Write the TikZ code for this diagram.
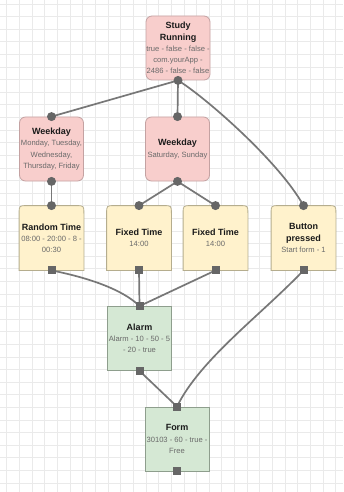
\documentclass[tikz,border=0pt]{standalone}
\usepackage{fontspec}
\setmainfont{Liberation Sans}
\usetikzlibrary{backgrounds,calc}
\definecolor{pinkf}{HTML}{F8CECC}
\definecolor{pinkd}{HTML}{C4A2A2}
\definecolor{yelf}{HTML}{FFF2CC}
\definecolor{yeld}{HTML}{B5AD8E}
\definecolor{grnf}{HTML}{D5E8D4}
\definecolor{grnd}{HTML}{8E9E8D}
\definecolor{edgec}{HTML}{777777}
\definecolor{portc}{HTML}{666666}
\definecolor{gridc}{HTML}{EAEAEA}
\definecolor{titlec}{HTML}{1A1A1A}
\definecolor{subc}{HTML}{6A6A6A}
\newcommand{\ttlf}{\fontsize{9}{11}\selectfont\bfseries\color{titlec}}
\newcommand{\sbtf}{\fontsize{7.6}{11}\selectfont\color{subc}}
\newcommand{\yshape}[1]{%
  \path[fill=yelf, draw=yeld, line width=0.8pt]
    (#1.south west) -- ($(#1.north west)+(0,8)$)
    .. controls (#1.north west) .. ($(#1.north west)+(8,0)$)
    -- ($(#1.north east)+(-8,0)$)
    .. controls (#1.north east) .. ($(#1.north east)+(0,8)$)
    -- (#1.south east) -- cycle;}
\tikzset{
  box/.style={minimum width=64pt, minimum height=64pt, inner sep=0pt,
    align=center, font=\fontsize{7.5}{11.2}\selectfont, line width=0.8pt},
  pinkbox/.style={box, fill=pinkf, draw=pinkd, rounded corners=6pt},
  greenbox/.style={box, fill=grnf, draw=grnd},
  yelbox/.style={box},
  edge/.style={draw=edgec, line width=1.7pt},
  cport/.style={circle, fill=portc, inner sep=0pt, minimum size=9pt},
  sport/.style={rectangle, fill=portc, inner sep=0pt, minimum size=8pt},
}
\begin{document}
\begin{tikzpicture}[x=1pt,y=-1pt]
\useasboundingbox (0,0) rectangle (343,492);

\node[pinkbox] (study) at (178,48) {\ttlf Study\\ \ttlf Running\\ \sbtf true - false - false -\\ \sbtf com.yourApp -\\ \sbtf 2486 - false - false};
\node[pinkbox] (wl) at (51.5,149) {\ttlf Weekday\\ \sbtf Monday, Tuesday,\\ \sbtf Wednesday,\\ \sbtf Thursday, Friday};
\node[pinkbox] (wr) at (177.5,149) {\ttlf Weekday\\ \sbtf Saturday, Sunday};
\node[yelbox] (rt) at (51.5,238) {\ttlf Random Time\\ \sbtf 08:00 - 20:00 - 8 -\\ \sbtf 00:30};
\node[yelbox] (f1) at (139,238) {\ttlf Fixed Time\\ \sbtf 14:00};
\node[yelbox] (f2) at (215.5,238) {\ttlf Fixed Time\\ \sbtf 14:00};
\node[yelbox] (bp) at (303.5,238) {\ttlf Button\\ \ttlf pressed\\ \sbtf Start form - 1};
\node[greenbox] (alarm) at (139.5,338.5) {\ttlf Alarm\\ \sbtf Alarm - 10 - 50 - 5\\ \sbtf - 20 - true};
\node[greenbox] (form) at (177,439) {\ttlf Form\\ \sbtf 30103 - 60 - true -\\ \sbtf Free};

\begin{pgfonlayer}{background}
\fill[white] (0,0) rectangle (343,492);
\foreach \k in {0,...,26} {\draw[gridc, line width=0.6pt] ({6.7+12.65*\k},0) -- ({6.7+12.65*\k},492);}
\foreach \k in {0,...,38} {\draw[gridc, line width=0.6pt] (0,{4+12.6*\k}) -- (343,{4+12.6*\k});}
\yshape{rt}\yshape{f1}\yshape{f2}\yshape{bp}
\end{pgfonlayer}

\draw[edge] (study.south) -- (wl.north);
\draw[edge] (study.south) -- (wr.north);
\draw[edge] (study.south) .. controls +(25,15) and +(-25,-45) .. (bp.north);
\draw[edge] (wl.south) -- (rt.north);
\draw[edge] (wr.south) -- (f1.north);
\draw[edge] (wr.south) -- (f2.north);
\draw[edge] (rt.south) .. controls +(50,10) and +(-12,-12) .. (alarm.north);
\draw[edge] (f1.south) -- (alarm.north);
\draw[edge] (f2.south) -- (alarm.north);
\draw[edge] (alarm.south) -- (form.north);
\draw[edge] (bp.south) .. controls +(-43,45) and +(23,-47) .. (form.north);

\node[cport] (ps) at (study.south) {};
\node[cport] (pwlt) at (wl.north) {};
\node[cport] (pwlb) at (wl.south) {};
\node[cport] (pwrt) at (wr.north) {};
\node[cport] (pwrb) at (wr.south) {};
\node[cport] (prt) at (rt.north) {};
\node[cport] (pf1) at (f1.north) {};
\node[cport] (pf2) at (f2.north) {};
\node[cport] (pbp) at (bp.north) {};
\node[sport] (qrt) at (rt.south) {};
\node[sport] (qf1) at (f1.south) {};
\node[sport] (qf2) at (f2.south) {};
\node[sport] (qbp) at (bp.south) {};
\node[sport] (qat) at (alarm.north) {};
\node[sport] (qab) at (alarm.south) {};
\node[sport] (qft) at (form.north) {};
\node[sport] (qfb) at (form.south) {};
\end{tikzpicture}
\end{document}
